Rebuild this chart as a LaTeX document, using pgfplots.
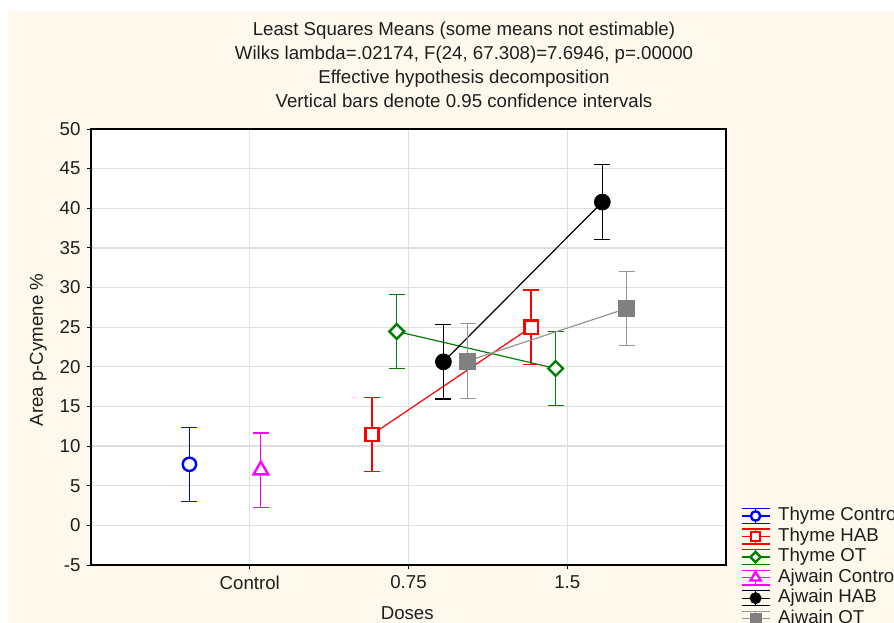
\documentclass[border=0pt]{standalone}
\usepackage{fontspec}
\setmainfont{Liberation Sans}
\usepackage{pgfplots}
\pgfplotsset{compat=1.18}
\definecolor{cream}{RGB}{255,249,237}
\definecolor{gridgray}{RGB}{222,222,222}
\definecolor{tblue}{RGB}{0,0,255}
\definecolor{tred}{RGB}{255,0,0}
\definecolor{tgreen}{RGB}{0,128,0}
\definecolor{amag}{RGB}{255,0,255}
\definecolor{agray}{RGB}{128,128,128}
\definecolor{agrayl}{RGB}{150,150,150}
\definecolor{txt}{RGB}{30,30,30}
\pgfplotsset{
  eb/.style={/pgfplots/error bars/y dir=both, /pgfplots/error bars/y explicit,
    /pgfplots/error bars/error bar style={line width=0.9pt, solid, draw=#1},
    /pgfplots/error bars/error mark options={rotate=90, mark size=6pt, line width=0.9pt, draw=#1, solid}},
}
\begin{document}
\fontsize{14}{17}\selectfont
\begin{tikzpicture}
\path[use as bounding box, clip] (0pt,0pt) rectangle (670.5pt,467.25pt);
\fill[white] (0pt,0pt) rectangle (670.5pt,467.25pt);
\fill[cream] (6pt,0pt) rectangle (670.5pt,459pt);
\node[anchor=base, text=txt, inner sep=0pt] at (348pt,440.25pt) {Least Squares Means (some means not estimable)};
\node[anchor=base, text=txt, inner sep=0pt] at (348pt,422.25pt) {Wilks lambda=.02174, F(24, 67.308)=7.6946, p=.00000};
\node[anchor=base, text=txt, inner sep=0pt] at (348pt,404.25pt) {Effective hypothesis decomposition};
\node[anchor=base, text=txt, inner sep=0pt] at (348pt,386.25pt) {Vertical bars denote 0.95 confidence intervals};
\begin{axis}[
  at={(68.25pt,43.5pt)}, anchor=south west,
  scale only axis, width=476.25pt, height=327pt,
  font=\fontsize{14}{17}\selectfont,
  /pgf/number format/assume math mode=true,
  xmin=-1, xmax=3, ymin=-5, ymax=50,
  xtick={0,1,2}, xticklabels={Control,0.75,1.5},
  ytick={-5,0,...,50},
  tick label style={text=txt},
  grid=major, grid style={gridgray, line width=1pt},
  axis line style={black, line width=0.9pt},
  axis background/.style={fill=white},
  tick align=outside, major tick length=3pt, tick style={black, line width=0.6pt},
  tick pos=left,
  xlabel={Doses}, ylabel={Area p-Cymene \%},
  every axis x label/.style={at={(axis description cs:0.498,-0.110)}, anchor=center, text=txt},
  every axis y label/.style={at={(axis description cs:-0.083,0.493)}, rotate=90, anchor=center, text=txt},
  legend style={at={(axis description cs:1.0236,0.1353)}, anchor=north west, draw=none, fill=none,
    inner sep=0pt, outer sep=0pt, font=\fontsize{14}{15}\selectfont, row sep=0.4pt,
    nodes={inner sep=0pt, text height=11pt, text depth=4pt, text=txt},
    /tikz/every odd column/.append style={column sep=6pt}},
  legend cell align=left,
  legend image code/.code={
    \draw[#1, mark=none, line width=0.9pt] (0pt,0pt) -- (21pt,0pt);
    \draw[#1, mark=none, line width=0.9pt] (0pt,5.6pt) -- (21pt,5.6pt);
    \draw[#1, mark=none, line width=0.9pt] (0pt,-5.6pt) -- (21pt,-5.6pt);
    \draw[#1, mark=none, line width=0.9pt] (10.5pt,-5.6pt) -- (10.5pt,5.6pt);
    \draw[#1, only marks, every mark/.append style={scale=0.7}] plot coordinates {(10.5pt,0pt)};
  },
]
\addplot[tblue, line width=0.9pt, mark=*, mark size=5pt, mark options={fill=white, draw=tblue, line width=1.8pt, solid}, eb=tblue]
  coordinates {(-0.38,7.70) +- (0,4.68)};
\addlegendentry{Thyme Control}
\addplot[tred, line width=0.9pt, mark=square*, mark size=5pt, mark options={fill=white, draw=tred, line width=1.8pt, solid}, eb=tred]
  coordinates {(0.77,11.46) +- (0,4.7) (1.772,25.0) +- (0,4.7)};
\addlegendentry{Thyme HAB}
\addplot[tgreen, line width=0.9pt, mark=square*, mark size=3.9pt, mark options={fill=white, draw=tgreen, line width=1.8pt, solid, rotate=45}, eb=tgreen]
  coordinates {(0.926,24.46) +- (0,4.7) (1.927,19.79) +- (0,4.7)};
\addlegendentry{Thyme OT}
\addplot[amag, line width=0.9pt, mark=triangle*, mark size=6.3pt, mark options={fill=white, draw=amag, line width=1.8pt, solid}, eb=amag]
  coordinates {(0.07,6.97) +- (0,4.68)};
\addlegendentry{Ajwain Control}
\addplot[black, line width=0.9pt, mark=*, mark size=6pt, mark options={fill=black, draw=black, line width=0.5pt, solid}, eb=black]
  coordinates {(1.22,20.63) +- (0,4.7) (2.221,40.78) +- (0,4.7)};
\addlegendentry{Ajwain HAB}
\addplot[agrayl, line width=0.9pt, mark=square*, mark size=6pt, mark options={fill=agray, draw=agray, line width=0.5pt, solid}, eb=agrayl]
  coordinates {(1.373,20.74) +- (0,4.7) (2.374,27.36) +- (0,4.7)};
\addlegendentry{Ajwain OT}
\end{axis}
\end{tikzpicture}
\end{document}
